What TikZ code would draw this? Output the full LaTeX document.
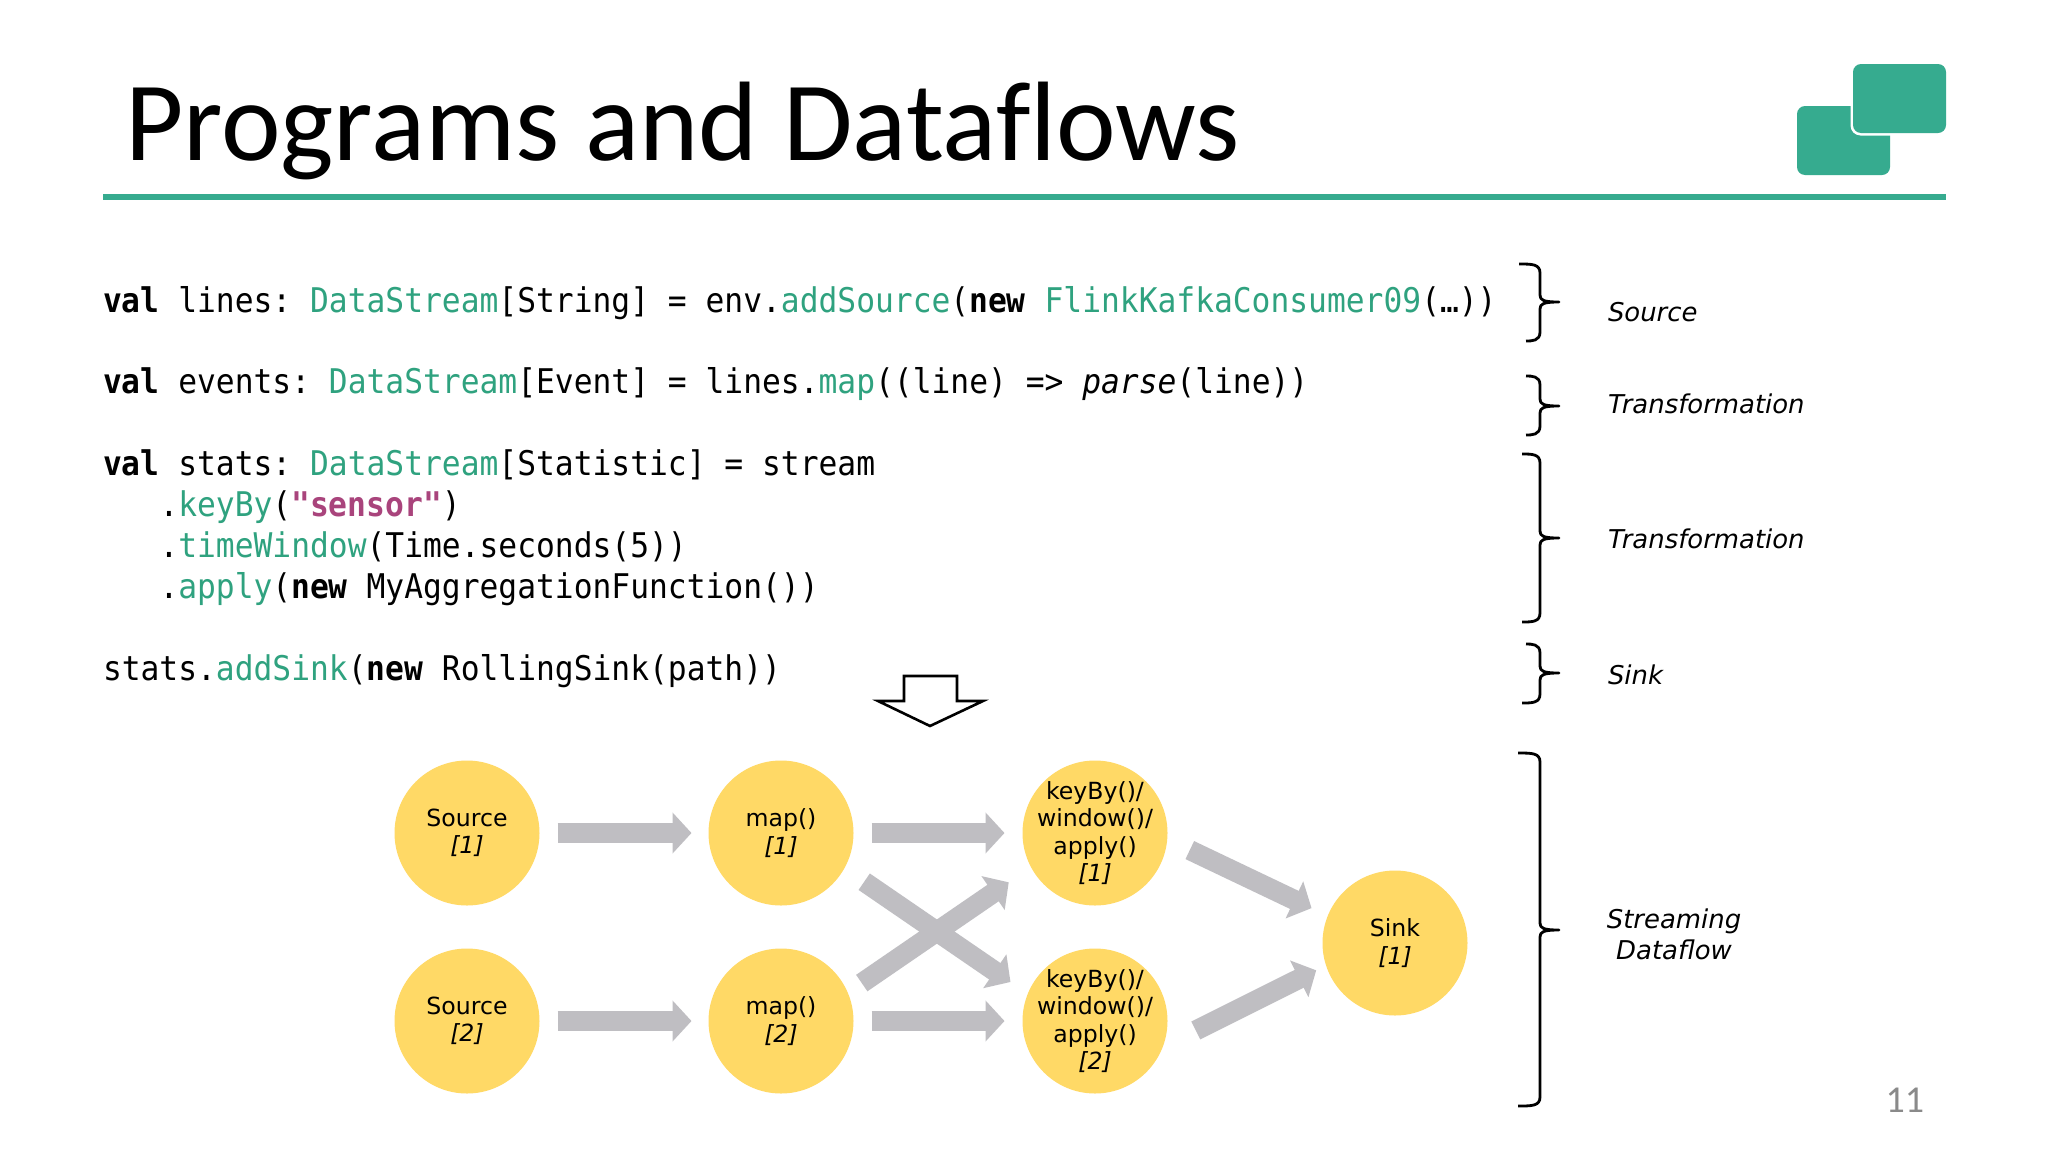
\documentclass[tikz,border=0pt]{standalone}
\usepackage{fontspec}
\usetikzlibrary{arrows.meta}
\setmainfont{DejaVu Sans}
\newfontfamily\titlefont{Carlito}[Ligatures=NoCommon]
\newfontfamily\codefont{DejaVu Sans Mono}[FakeStretch=0.92]
\frenchspacing

\definecolor{flinkgreen}{HTML}{36AB8F}
\definecolor{codegreen}{HTML}{2FA27F}
\definecolor{strcolor}{HTML}{A9447C}
\definecolor{opyellow}{HTML}{FFD966}
\definecolor{flowgray}{HTML}{BFBEC2}
\definecolor{pagegray}{HTML}{8A8A8A}

% code helpers
\newcommand{\kw}[1]{{\bfseries #1}}
\newcommand{\fn}[1]{\textcolor{codegreen}{#1}}
% x start top, y top, y mid, y bottom, x start bottom
\newcommand{\dfbrace}[5]{%
  \draw[brc] (#1,#2) .. controls (1532,#2) and (1540,#2) .. (1540,#2+9) -- (1540,#3-7)
    .. controls (1540,#3-2) and (1543,#3) .. (1559,#3)
    .. controls (1543,#3) and (1540,#3+2) .. (1540,#3+7) -- (1540,#4-9)
    .. controls (1540,#4) and (1532,#4) .. (#5,#4);}

\begin{document}
\begin{tikzpicture}[
  x=1pt, y=-1pt,
  every node/.style={inner sep=0pt, outer sep=0pt},
  code/.style={anchor=base west, text=black, font=\fontsize{34}{40}\selectfont\codefont},
  lbl/.style={anchor=base west, font=\fontsize{25.9}{31}\selectfont\itshape},
  op/.style={circle, fill=opyellow, minimum size=145pt, inner sep=-14pt, align=center,
    font=\fontsize{23.6}{27.4}\selectfont, execute at begin node={\rule{0pt}{23pt}}},
  flow/.style={draw=flowgray, line width=20pt, -{Triangle[length=19pt,width=40pt]}},
  brc/.style={draw=black, line width=2.8pt, line join=round},
  logo/.style={fill=flinkgreen, rounded corners=8pt}
]
\useasboundingbox (0,0) rectangle (2048,1152);
\fill[white] (0,0) rectangle (2048,1152);

% header
\node[anchor=base west, font=\fontsize{113}{120}\selectfont\titlefont] (title) at (125,160) {Programs and Dataflows};
\fill[logo] (1797,106) rectangle (1890,175);
\fill[white, rounded corners=10pt] (1850.5,61.5) rectangle (1948,135.5);
\fill[logo] (1853,64) rectangle (1946,133);
\fill[flinkgreen] (103,194) rectangle (1946,200);

% code
\node[code] (c1) at (103,312) {\kw{val} lines: \fn{DataStream}[String] = env.\fn{addSource}(\kw{new} \fn{FlinkKafkaConsumer09}(…))};
\node[code] (c2) at (103,393.5) {\kw{val} events: \fn{DataStream}[Event] = lines.\fn{map}((line) => {\itshape parse}(line))};
\node[code] (c3) at (103,475) {\kw{val} stats: \fn{DataStream}[Statistic] = stream};
\node[code] (c4) at (159.5,516) {.\fn{keyBy}(\textcolor{strcolor}{\bfseries"sensor"})};
\node[code] (c5) at (159.5,557.5) {.\fn{timeWindow}(Time.seconds(5))};
\node[code] (c6) at (159.5,598.5) {.\fn{apply}(\kw{new} MyAggregationFunction())};
\node[code] (c7) at (103,680) {stats.\fn{addSink}(\kw{new} RollingSink(path))};

% braces and their labels
\dfbrace{1519}{264}{302}{341}{1526}
\dfbrace{1526}{376}{406}{435}{1526}
\dfbrace{1522}{454}{538}{622}{1522}
\dfbrace{1526}{644}{673}{703}{1522}
\dfbrace{1518}{753}{930}{1106}{1518}
\node[lbl] (l1) at (1608,321) {Source};
\node[lbl] (l2) at (1608,413) {Transformation};
\node[lbl] (l3) at (1608,548) {Transformation};
\node[lbl] (l4) at (1608,684) {Sink};
\node[lbl, anchor=center, align=center] (l5) at (1674,934) {Streaming\\Dataflow};

% hollow arrow from program to dataflow
\draw[black, line width=2.6pt, line join=miter, fill=white]
  (904,676) -- (957,676) -- (957,701) -- (983,701) -- (930,726) -- (878,701) -- (904,701) -- cycle;

% operators
\node[op] (s1) at (467,833) {Source\\\textit{[1]}};
\node[op] (s2) at (467,1021) {Source\\\textit{[2]}};
\node[op] (m1) at (781,833) {map()\\\textit{[1]}};
\node[op] (m2) at (781,1021) {map()\\\textit{[2]}};
\node[op] (k1) at (1095,833) {keyBy()/\\window()/\\apply()\\\textit{[1]}};
\node[op] (k2) at (1095,1021) {keyBy()/\\window()/\\apply()\\\textit{[2]}};
\node[op] (sink) at (1395,943) {Sink\\\textit{[1]}};

% streams between operators
\draw[flow, shorten <=18pt, shorten >=17pt] (s1) -- (m1);
\draw[flow, shorten <=18pt, shorten >=17pt] (s2) -- (m2);
\draw[flow, shorten <=18pt, shorten >=18pt] (m1) -- (k1);
\draw[flow, shorten <=18pt, shorten >=18pt] (m2) -- (k2);
\draw[flow, shorten <=24pt, shorten >=21pt] (m1.-29) -- (k2.158);
\draw[flow, shorten <=17pt, shorten >=27pt] (m2.23) -- (k1.208);
\draw[flow, shorten <=25pt, shorten >=18pt] (k1.-5) -- (sink.158);
\draw[flow, shorten <=37pt, shorten >=11pt] (k2.-21) -- (sink.198);

% slide number
\node[anchor=base east, text=pagegray, font=\fontsize{38}{40}\selectfont\titlefont] (page) at (1924,1112) {11};
\end{tikzpicture}
\end{document}
